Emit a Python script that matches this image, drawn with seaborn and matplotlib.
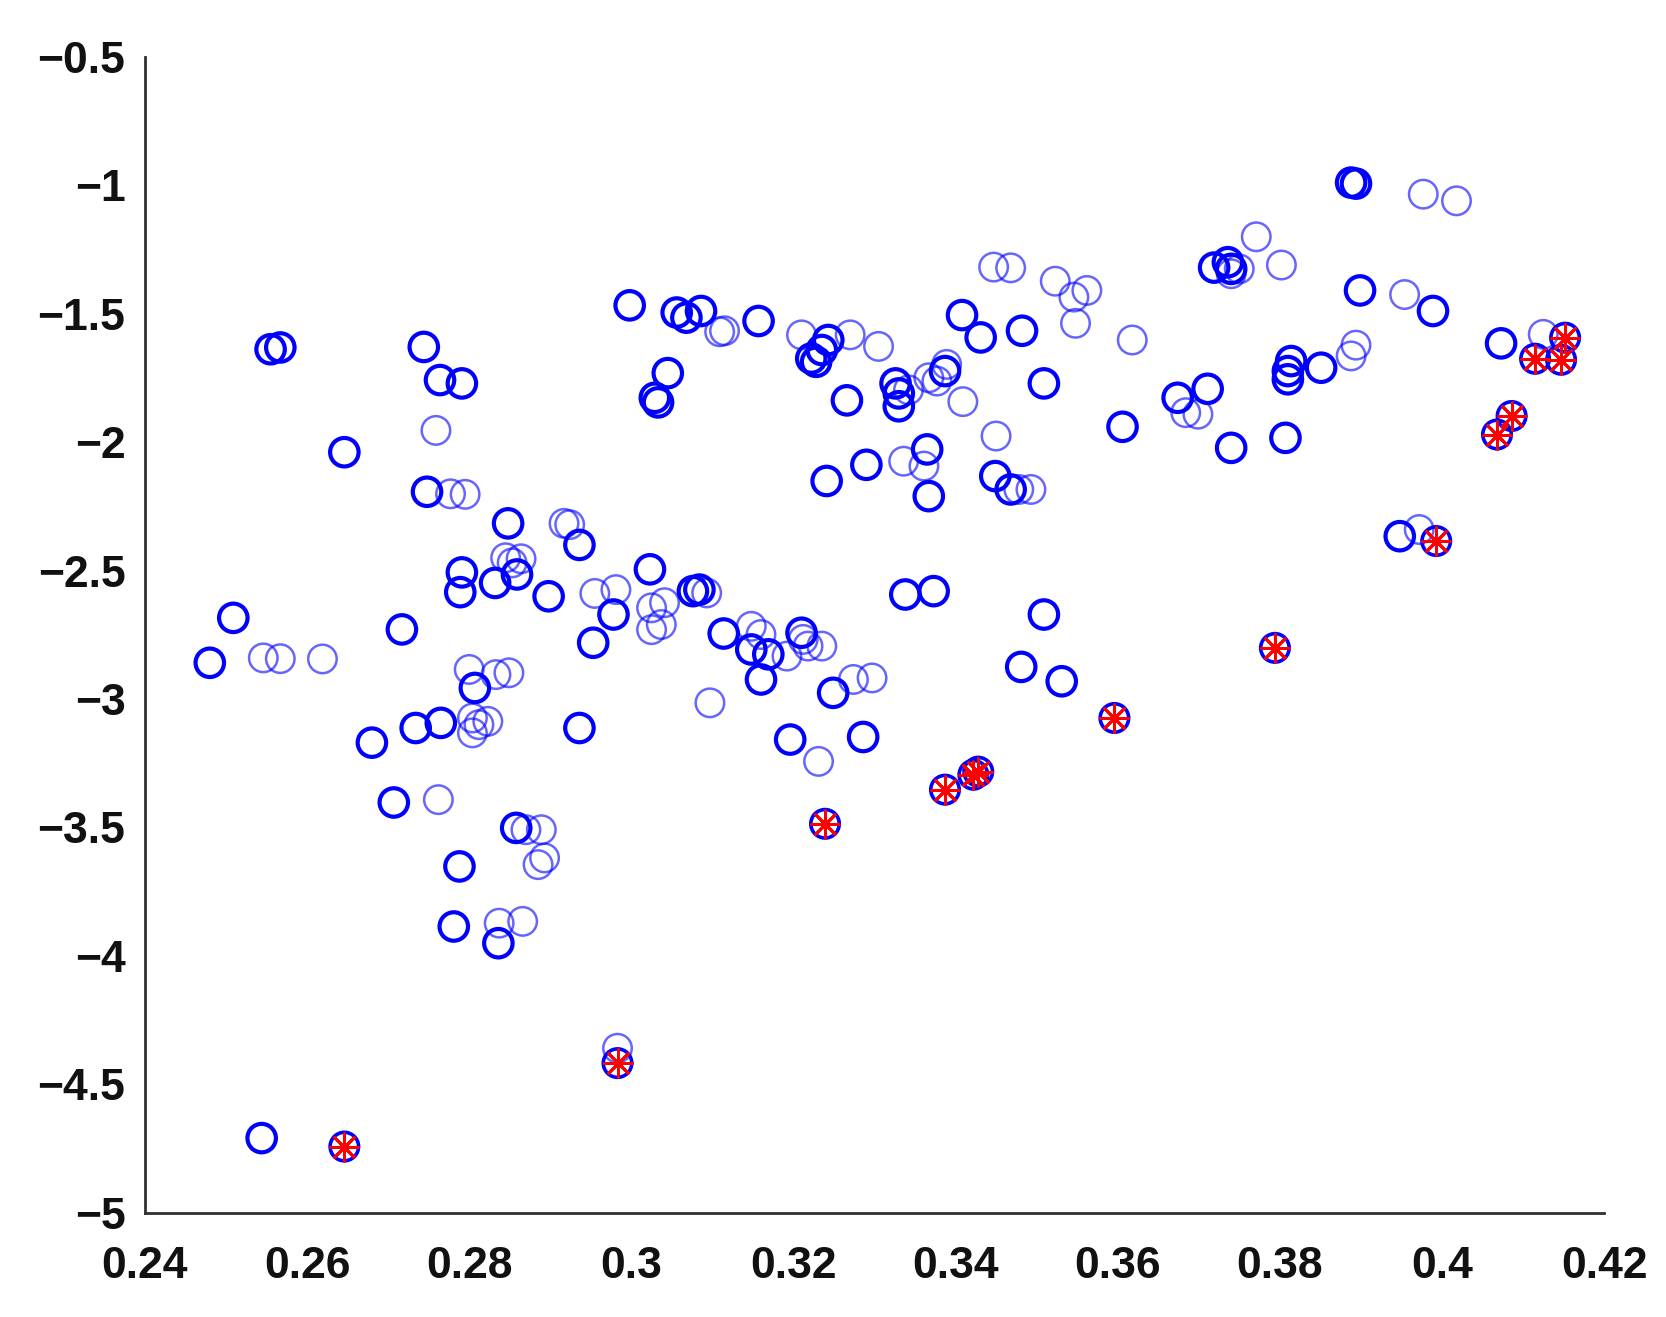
import numpy as np
import pandas as pd
import seaborn as sns
from matplotlib import pyplot as plt
from matplotlib.markers import MarkerStyle

sns.set_style("white")
plt.rcParams['font.family'] = ['Liberation Sans', 'DejaVu Sans']

# points drawn with a heavy ring (repeated / overlapping observations)
bold_x = [0.2555, 0.2567, 0.2744, 0.2764, 0.2791, 0.2646, 0.2748, 0.2848, 0.2936, 0.2859,
          0.2832, 0.2791, 0.2789, 0.2898, 0.2978, 0.2953, 0.3023, 0.2509, 0.2717, 0.2480,
          0.2807, 0.2936, 0.2680, 0.2734, 0.2765, 0.2707, 0.2858, 0.2788, 0.2781, 0.2836,
          0.2544, 0.2998, 0.3056, 0.3068, 0.3086, 0.3157, 0.3243, 0.3235, 0.3228, 0.3222,
          0.3408, 0.3431, 0.3482, 0.3509, 0.3045, 0.3029, 0.3033, 0.3266, 0.3326, 0.3330,
          0.3330, 0.3387, 0.3241, 0.3290, 0.3365, 0.3367, 0.3449, 0.3468, 0.3338, 0.3373,
          0.3076, 0.3084, 0.3114, 0.3148, 0.3169, 0.3210, 0.3160, 0.3249, 0.3196, 0.3286,
          0.3509, 0.3481, 0.3531, 0.3948, 0.3888, 0.3894, 0.3719, 0.3736, 0.3740, 0.3899,
          0.3989, 0.4073, 0.3814, 0.3810, 0.3810, 0.3851, 0.3711, 0.3674, 0.3606, 0.3740,
          0.3807]
bold_y = [-1.638, -1.631, -1.629, -1.758, -1.771, -2.039, -2.193, -2.316, -2.400, -2.515,
          -2.548, -2.507, -2.584, -2.600, -2.671, -2.781, -2.495, -2.684, -2.729, -2.859,
          -2.957, -3.113, -3.170, -3.113, -3.093, -3.403, -3.502, -3.652, -3.886, -3.951,
          -4.710, -1.467, -1.495, -1.515, -1.489, -1.528, -1.602, -1.641, -1.687, -1.674,
          -1.505, -1.592, -1.566, -1.771, -1.731, -1.827, -1.845, -1.837, -1.771, -1.810,
          -1.860, -1.723, -2.151, -2.088, -2.028, -2.210, -2.132, -2.184, -2.593, -2.580,
          -2.580, -2.574, -2.745, -2.807, -2.826, -2.742, -2.924, -2.976, -3.158, -3.148,
          -2.671, -2.875, -2.931, -2.366, -0.989, -0.993, -1.320, -1.299, -1.325, -1.409,
          -1.489, -1.615, -1.684, -1.723, -1.755, -1.710, -1.792, -1.827, -1.940, -2.022,
          -1.983]

# single observations, thin light ring
light_x = [0.2759, 0.2777, 0.2795, 0.2917, 0.2924, 0.2845, 0.2853, 0.2864, 0.2955, 0.2981,
           0.2546, 0.2567, 0.2619, 0.2800, 0.2833, 0.2849, 0.2804, 0.2812, 0.2823, 0.2804,
           0.2762, 0.2870, 0.2889, 0.2893, 0.2885, 0.2837, 0.2866, 0.2983, 0.3109, 0.3115,
           0.3210, 0.3270, 0.3305, 0.3447, 0.3468, 0.3523, 0.3546, 0.3562, 0.3548, 0.3342,
           0.3367, 0.3389, 0.3377, 0.3409, 0.3450, 0.3336, 0.3361, 0.3478, 0.3493, 0.3025,
           0.3041, 0.3025, 0.3037, 0.3093, 0.3148, 0.3160, 0.3192, 0.3212, 0.3218, 0.3235,
           0.3097, 0.3274, 0.3297, 0.3231, 0.3972, 0.3977, 0.4018, 0.3771, 0.3802, 0.3750,
           0.3740, 0.3954, 0.3618, 0.4125, 0.3894, 0.3888, 0.3684, 0.3699]
light_y = [-1.954, -2.201, -2.203, -2.316, -2.321, -2.450, -2.470, -2.454, -2.589, -2.574,
           -2.840, -2.843, -2.844, -2.885, -2.905, -2.898, -3.074, -3.100, -3.087, -3.132,
           -3.392, -3.509, -3.509, -3.619, -3.645, -3.873, -3.866, -4.360, -1.570, -1.566,
           -1.582, -1.582, -1.627, -1.318, -1.321, -1.373, -1.435, -1.409, -1.537, -1.796,
           -1.749, -1.697, -1.762, -1.842, -1.976, -2.074, -2.093, -2.184, -2.184, -2.645,
           -2.625, -2.730, -2.710, -2.587, -2.717, -2.749, -2.833, -2.768, -2.794, -2.794,
           -3.015, -2.924, -2.918, -3.243, -2.340, -1.034, -1.060, -1.200, -1.310, -1.325,
           -1.344, -1.425, -1.602, -1.580, -1.622, -1.664, -1.885, -1.891]

# flagged points (red asterisk inside the ring)
flag_x = [0.2646, 0.2983, 0.3239, 0.3387, 0.3422, 0.3428, 0.3596, 0.3794, 0.3993, 0.4068,
          0.4086, 0.4115, 0.4147, 0.4152]
flag_y = [-4.743, -4.418, -3.486, -3.353, -3.295, -3.283, -3.074, -2.801, -2.385, -1.970,
          -1.898, -1.675, -1.679, -1.593]

x_ticks = [0.24, 0.26, 0.28, 0.30, 0.32, 0.34, 0.36, 0.38, 0.40, 0.42]
x_labels = ['0.24', '0.26', '0.28', '0.3', '0.32', '0.34', '0.36', '0.38', '0.4', '0.42']
y_ticks = [-5, -4.5, -4, -3.5, -3, -2.5, -2, -1.5, -1, -0.5]
y_labels = ['\u22125', '\u22124.5', '\u22124', '\u22123.5', '\u22123', '\u22122.5',
            '\u22122', '\u22121.5', '\u22121', '\u22120.5']

bold = pd.DataFrame({'x': bold_x, 'y': bold_y})
light = pd.DataFrame({'x': light_x, 'y': light_y})
flag = pd.DataFrame({'x': flag_x, 'y': flag_y})

fig = plt.figure(figsize=(16.66, 13.17), dpi=100)
ax = fig.add_axes([0.087, 0.0793, 0.8758, 0.8774])

ring = 420
sns.scatterplot(data=light, x='x', y='y', ax=ax, marker='o', s=ring,
                facecolor='none', edgecolor='blue', linewidth=1.8, alpha=0.6)
sns.scatterplot(data=bold, x='x', y='y', ax=ax, marker='o', s=ring,
                facecolor='none', edgecolor='blue', linewidth=3.0)
sns.scatterplot(data=flag, x='x', y='y', ax=ax, marker='o', s=ring,
                facecolor='none', edgecolor='blue', linewidth=2.6)
# asterisk plus a small dot to mimic the dense red centre
sns.scatterplot(data=flag, x='x', y='y', ax=ax, marker=MarkerStyle((8, 2, 0)), s=400,
                color='red', linewidth=2.0)
sns.scatterplot(data=flag, x='x', y='y', ax=ax, marker='o', s=45,
                color='red', edgecolor='red', linewidth=0)

ax.set_xlim(0.24, 0.42)
ax.set_ylim(-5, -0.5)
ax.set_xticks(x_ticks)
ax.set_xticklabels(x_labels)
ax.set_yticks(y_ticks)
ax.set_yticklabels(y_labels)
ax.set_xlabel('')
ax.set_ylabel('')

for side in ['top', 'right']:
    ax.spines[side].set_visible(False)
for side in ['left', 'bottom']:
    ax.spines[side].set_color('#303030')
    ax.spines[side].set_linewidth(2)

ax.tick_params(axis='both', direction='in', length=11, width=1.8, color='#505050',
               labelsize=32)
ax.tick_params(axis='x', pad=24)
ax.tick_params(axis='y', pad=14)
for lab in ax.get_xticklabels() + ax.get_yticklabels():
    lab.set_fontweight('bold')
    lab.set_color('#111111')

plt.savefig('out.png', dpi=100)
